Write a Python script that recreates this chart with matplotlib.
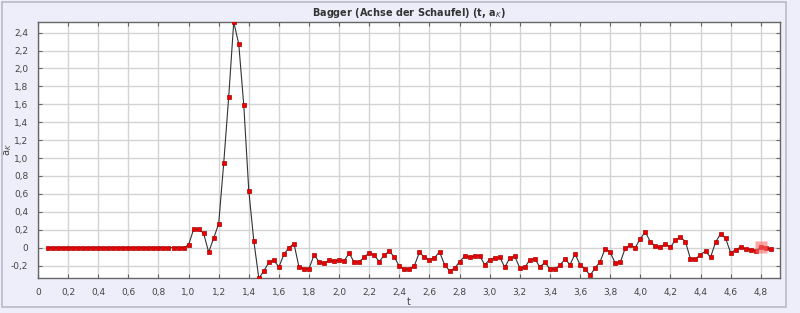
import numpy as np
import matplotlib
matplotlib.use("Agg")
import matplotlib.pyplot as plt
from matplotlib.ticker import FuncFormatter, MultipleLocator

# Messwerte (Abtastung 30 Hz, Start bei t = 2/30)
t_start = 2 / 30
t_step = 1 / 30

a_ruhe = [0.0] * 28
a_anlauf = [0.03, 0.205, 0.205, 0.16, -0.05, 0.105, 0.268,
            0.941, 1.685, 2.519, 2.273, 1.589, 0.636, 0.074, -0.342, -0.26, -0.164]
a_mitte = [-0.141, -0.216, -0.074, 0.0, 0.045, -0.216, -0.234, -0.234, -0.082, -0.156,
           -0.175, -0.141, -0.149, -0.141, -0.149, -0.06, -0.164, -0.156, -0.108, -0.056,
           -0.086, -0.156, -0.082, -0.041, -0.104, -0.21]
a_ende = [-0.238, -0.238, -0.2, -0.052, -0.108, -0.134, -0.115, -0.045, -0.19, -0.257,
          -0.23, -0.156, -0.097, -0.104, -0.093, -0.089, -0.19, -0.134, -0.119, -0.104,
          -0.22, -0.115, -0.097, -0.227, -0.22, -0.134, -0.126, -0.216, -0.164, -0.238,
          -0.238, -0.197, -0.126, -0.19, -0.071, -0.19, -0.238, -0.309, -0.227, -0.156,
          -0.011, -0.052, -0.171, -0.164, -0.007, 0.03, 0.0, 0.1, 0.175, 0.067,
          0.015, 0.004, 0.045, 0.004, 0.086, 0.119, 0.067, -0.126, -0.126, -0.078,
          -0.037, -0.108, 0.06, 0.156, 0.104, -0.056, -0.026, 0.007, -0.015, -0.022,
          -0.037, 0.004, 0.0, -0.015]
markiert = 142  # hervorgehobener Punkt

a_k = np.array(a_ruhe + a_anlauf + a_mitte + a_ende)
t = t_start + t_step * np.arange(len(a_k))

bg = "#eeeefa"
fig = plt.figure(figsize=(8, 3.13), dpi=100, facecolor=bg)
ax = fig.add_axes([0.0475, 0.112, 0.9275, 0.818])
ax.set_facecolor("white")

ax.plot(t, a_k, color="#333333", lw=0.8, zorder=3)
ax.plot(t, a_k, "s", ms=3.2, mfc="#ee0000", mec="#aa0000", mew=0.5, zorder=4)
ax.plot(t[markiert], a_k[markiert], "s", ms=8, mfc="#ff6666", mec="none", alpha=0.6, zorder=5)

ax.set_xlim(0, 4.928)
ax.set_ylim(-0.338, 2.52)
ax.xaxis.set_major_locator(MultipleLocator(0.2))
ax.yaxis.set_major_locator(MultipleLocator(0.2))

def fmt(v, pos):
    if abs(v) < 1e-9:
        return "0"
    return f"{v:.1f}".replace(".", ",")

ax.xaxis.set_major_formatter(FuncFormatter(fmt))
ax.yaxis.set_major_formatter(FuncFormatter(fmt))

ax.grid(True, color="#d4d4d4", lw=1.0, zorder=0)
ax.tick_params(direction="in", length=3, width=0.8, color="#666666",
               labelsize=6.5, labelcolor="#444444", top=True, right=True, pad=7)
for s in ax.spines.values():
    s.set_color("#666666")
    s.set_linewidth(1.0)

ax.set_title("Bagger (Achse der Schaufel) (t, a$_K$)", fontsize=7, fontweight="bold",
             color="#333333", pad=4)
ax.set_xlabel("t", fontsize=7, color="#444444", labelpad=0)
ax.set_ylabel("a$_K$", fontsize=7, color="#444444")
ax.yaxis.set_label_coords(-0.033, 0.5)

# Fensterrahmen
fig.add_artist(plt.Rectangle((0.003, 0.02), 0.98, 0.975, transform=fig.transFigure,
                             fill=False, ec="#b8b8c8", lw=1.2))

fig.savefig("out.png", dpi=100, facecolor=bg)
